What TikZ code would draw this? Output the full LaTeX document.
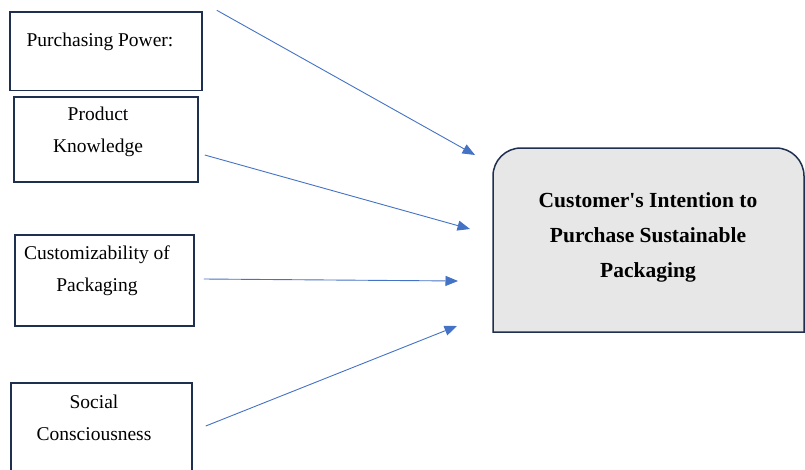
\documentclass[tikz,border=0pt]{standalone}
\usepackage{fontspec}
\setmainfont{Liberation Serif}
\usetikzlibrary{arrows.meta}
\definecolor{boxline}{HTML}{1F2F4F}
\definecolor{arrowblue}{HTML}{4472C4}
\definecolor{targetfill}{HTML}{E7E7E7}
\begin{document}
\begin{tikzpicture}[x=1pt,y=-1pt,
  srcbox/.style={draw=boxline, line width=1.5pt, inner sep=0pt},
  lbl/.style={font=\fontsize{19.5}{32}\selectfont, align=center, inner sep=0pt},
  link/.style={draw=arrowblue, line width=0.9pt, -{Triangle[length=12.5pt,width=10pt]}}]
\useasboundingbox (0,0) rectangle (805,469);
\clip (0,0) rectangle (805,469);
% source boxes
\node[srcbox, minimum width=192pt, minimum height=78.5pt] (p1) at (106,51.25) {};
\node[srcbox, minimum width=184pt, minimum height=85pt] (p2) at (106,139.5) {};
\node[srcbox, minimum width=179pt, minimum height=91pt] (p3) at (104.5,280.5) {};
\node[srcbox, minimum width=181pt, minimum height=97pt] (p4) at (101.5,431.5) {};
% labels
\node[lbl] (t1) at (100,42) {Purchasing Power:};
\node[lbl] (t2) at (98,132) {Product\\Knowledge};
\node[lbl] (t3) at (97,271) {Customizability of\\Packaging};
\node[lbl] (t4) at (94,418) {Social\\Consciousness};
% target box
\draw[draw=boxline, line width=1.5pt, fill=targetfill]
  (493,332) -- (493,176) arc[start angle=180, end angle=270, radius=28]
  -- (776,148) arc[start angle=270, end angle=360, radius=28]
  -- (804,332) -- cycle;
\node[font=\bfseries\fontsize{21.5}{35}\selectfont, align=center, inner sep=0pt] (target) at (648,237)
  {Customer\textquotesingle s Intention to\\Purchase Sustainable\\Packaging};
% arrow ends
\coordinate (e1) at (475,155);
\coordinate (e2) at (470,229);
\coordinate (e3) at (458,281);
\coordinate (e4) at (457,326);
\draw[link] ([shift={(14,-1)}]p1.north east) -- (e1);
\draw[link] ([shift={(6,15.5)}]p2.east) -- (e2);
\draw[link] ([shift={(9,-1.5)}]p3.east) -- (e3);
\draw[link] ([shift={(13,-5.5)}]p4.east) -- (e4);
\end{tikzpicture}
\end{document}
